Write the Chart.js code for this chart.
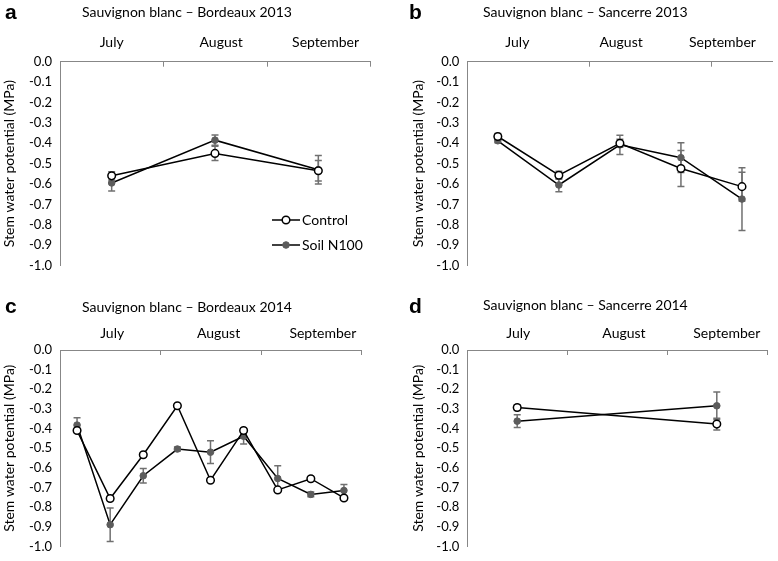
<!DOCTYPE html>
<html>
<head>
<meta charset="utf-8">
<script src="https://cdn.jsdelivr.net/npm/chart.js@4.4.1/dist/chart.umd.min.js"></script>
<style>
  body { margin: 0; background: #fff; }
  #wrap { position: relative; width: 778px; height: 561px; overflow: hidden; }
  canvas { position: absolute; }
  .letter { position: absolute; font-family: "Liberation Sans", Arial, sans-serif; font-weight: bold;
            font-size: 21px; line-height: 21px; color: #000; }
  .title { position: absolute; font-family: Lato, sans-serif; font-size: 14px; line-height: 16px;
           color: #000; white-space: nowrap; }
</style>
</head>
<body>
<div id="wrap">
  <canvas id="pa" width="389" height="280" style="left:0;top:0"></canvas>
  <canvas id="pb" width="389" height="280" style="left:389px;top:0"></canvas>
  <canvas id="pc" width="389" height="281" style="left:0;top:280px"></canvas>
  <canvas id="pd" width="389" height="281" style="left:389px;top:280px"></canvas>

  <div class="letter" style="left:5px;top:1px">a</div>
  <div class="title" style="left:82px;top:4px">Sauvignon blanc – Bordeaux 2013</div>
  <div class="letter" style="left:409px;top:1px">b</div>
  <div class="title" style="left:483px;top:4px">Sauvignon blanc – Sancerre 2013</div>
  <div class="letter" style="left:5px;top:295px">c</div>
  <div class="title" style="left:82px;top:299px">Sauvignon blanc – Bordeaux 2014</div>
  <div class="letter" style="left:409px;top:295px">d</div>
  <div class="title" style="left:483px;top:297px">Sauvignon blanc – Sancerre 2014</div>
</div>

<script>
// x values are months since 1 July (0 = 1 Jul, 1 = 1 Aug, 2 = 1 Sep)
const monthLabels = ['July', 'August', 'September'];
const seriesNames = ['Control', 'Soil N100'];

// a - Bordeaux 2013
const bdx13Dates = [0.5, 1.5, 2.5];
const bdx13Control = [-0.56, -0.45, -0.535];
const bdx13ControlSe = [0.02, 0.035, 0.05];
const bdx13Soil = [-0.595, -0.385, -0.53];
const bdx13SoilSe = [0.04, 0.025, 0.07];

// b - Sancerre 2013
const san13Dates = [0.25, 0.75, 1.25, 1.75, 2.25];
const san13Control = [-0.367, -0.557, -0.4, -0.524, -0.613];
const san13ControlSe = [0.015, 0.02, 0.02, 0.088, 0.07];
const san13Soil = [-0.388, -0.605, -0.408, -0.471, -0.674];
const san13SoilSe = [0.01, 0.033, 0.047, 0.073, 0.154];

// c - Bordeaux 2014
const bdx14Dates = [0.17, 0.5, 0.83, 1.17, 1.5, 1.83, 2.17, 2.5, 2.83];
const bdx14Control = [-0.41, -0.756, -0.533, -0.284, -0.663, -0.41, -0.712, -0.655, -0.753];
const bdx14ControlSe = [0.01, 0.01, 0.01, 0.01, 0.01, 0.01, 0.01, 0.01, 0.01];
const bdx14Soil = [-0.382, -0.889, -0.64, -0.504, -0.52, -0.439, -0.654, -0.735, -0.715];
const bdx14SoilSe = [0.037, 0.085, 0.037, 0.01, 0.058, 0.04, 0.065, 0.012, 0.03];

// d - Sancerre 2014
const san14Dates = [0.5, 2.5];
const san14Control = [-0.293, -0.377];
const san14ControlSe = [0.015, 0.03];
const san14Soil = [-0.362, -0.284];
const san14SoilSe = [0.032, 0.07];

const axisColor = '#878787';
const textColor = '#000';
const errColor = '#707070';
const soilColor = '#5c5c5c';
const fontFamily = 'Lato, sans-serif';

function toPoints(xs, ys) {
    return xs.map(function (x, i) { return { x: x, y: ys[i] }; });
}

// error bars drawn under the lines, from the dataset's own errors array
const errorBars = {
    id: 'errorBars',
    beforeDatasetsDraw: function (chart) {
        const ctx = chart.ctx;
        const x = chart.scales.x, y = chart.scales.y;
        chart.data.datasets.forEach(function (ds) {
            ctx.save();
            ctx.strokeStyle = errColor;
            ctx.lineWidth = 1.5;
            ds.data.forEach(function (p, j) {
                const e = ds.errors[j];
                const px = x.getPixelForValue(p.x);
                const top = y.getPixelForValue(p.y + e);
                const bot = y.getPixelForValue(p.y - e);
                ctx.beginPath();
                ctx.moveTo(px, top); ctx.lineTo(px, bot);
                ctx.moveTo(px - 3.5, top); ctx.lineTo(px + 3.5, top);
                ctx.moveTo(px - 3.5, bot); ctx.lineTo(px + 3.5, bot);
                ctx.stroke();
            });
            ctx.restore();
        });
    }
};

// month boundary ticks pointing down from the top axis
const monthTicks = {
    id: 'monthTicks',
    afterDraw: function (chart) {
        const ctx = chart.ctx, x = chart.scales.x, top = chart.chartArea.top;
        ctx.save();
        ctx.strokeStyle = axisColor;
        ctx.lineWidth = 1;
        for (let m = 1; m <= x.max + 1e-6; m++) {
            const px = Math.round(x.getPixelForValue(m)) + 0.5;
            ctx.beginPath();
            ctx.moveTo(px, top);
            ctx.lineTo(px, top + 5);
            ctx.stroke();
        }
        ctx.restore();
    }
};

// small legend inside panel a
function makeLegend(lx, ly, gap) {
    return {
        id: 'innerLegend',
        afterDraw: function (chart) {
            const ctx = chart.ctx;
            ctx.save();
            chart.data.datasets.forEach(function (ds, i) {
                const yy = ly + i * gap;
                ctx.strokeStyle = '#000';
                ctx.lineWidth = 1.5;
                ctx.beginPath();
                ctx.moveTo(lx, yy); ctx.lineTo(lx + 28, yy);
                ctx.stroke();
                ctx.beginPath();
                ctx.arc(lx + 14, yy, ds.pointRadius, 0, Math.PI * 2);
                ctx.fillStyle = ds.pointBackgroundColor;
                ctx.fill();
                ctx.lineWidth = ds.pointBorderWidth;
                ctx.strokeStyle = ds.pointBorderColor;
                ctx.stroke();
                ctx.fillStyle = textColor;
                ctx.font = '14px ' + fontFamily;
                ctx.textBaseline = 'middle';
                ctx.fillText(ds.label, lx + 30, yy);
            });
            ctx.restore();
        }
    };
}

function makePanel(p) {
    const plugins = [errorBars, monthTicks];
    if (p.legend) plugins.push(makeLegend(p.legend[0], p.legend[1], p.legend[2]));

    new Chart(document.getElementById(p.id), {
        type: 'line',
        data: {
            datasets: [
                {
                    label: seriesNames[0],
                    data: toPoints(p.dates, p.control),
                    errors: p.controlSe,
                    borderColor: '#000',
                    borderWidth: 1.5,
                    pointRadius: 3.8,
                    pointBorderWidth: 1.5,
                    pointBackgroundColor: '#fff',
                    pointBorderColor: '#000',
                    tension: 0
                },
                {
                    label: seriesNames[1],
                    data: toPoints(p.dates, p.soil),
                    errors: p.soilSe,
                    borderColor: '#000',
                    borderWidth: 1.5,
                    pointRadius: 3.3,
                    pointBorderWidth: 1,
                    pointBackgroundColor: soilColor,
                    pointBorderColor: soilColor,
                    tension: 0
                }
            ]
        },
        options: {
            responsive: false,
            animation: false,
            layout: { padding: { left: p.padLeft, right: p.padRight, top: 0, bottom: p.padBottom } },
            plugins: { legend: { display: false }, tooltip: { enabled: false } },
            scales: {
                x: {
                    type: 'linear',
                    position: 'top',
                    min: 0,
                    max: p.xMax,
                    afterFit: function (s) { s.height = p.axisTop; },
                    afterBuildTicks: function (s) {
                        s.ticks = p.labelAt.map(function (v) { return { value: v }; });
                    },
                    ticks: {
                        autoSkip: false,
                        maxRotation: 0,
                        padding: p.labelPad,
                        color: textColor,
                        font: { family: fontFamily, size: 14 },
                        callback: function (v, i) { return monthLabels[i]; }
                    },
                    grid: { display: true, drawOnChartArea: false, drawTicks: false },
                    border: { display: true, color: axisColor, width: 1 }
                },
                y: {
                    min: -1,
                    max: 0,
                    afterFit: function (s) { s.width = p.axisW; },
                    ticks: {
                        stepSize: 0.1,
                        padding: 8,
                        color: textColor,
                        font: { family: fontFamily, size: 13, lineHeight: 1 },
                        callback: function (v) { return (Math.abs(v) < 1e-9 ? 0 : v).toFixed(1); }
                    },
                    grid: { display: true, drawOnChartArea: false, drawTicks: false },
                    border: { display: true, color: axisColor, width: 1 },
                    title: {
                        display: true,
                        text: 'Stem water potential (MPa)',
                        color: textColor,
                        font: { family: fontFamily, size: 14 },
                        padding: { top: 1, bottom: 0 }
                    }
                }
            }
        },
        plugins: plugins
    });
}

makePanel({ id: 'pa', dates: bdx13Dates, control: bdx13Control, controlSe: bdx13ControlSe,
    soil: bdx13Soil, soilSe: bdx13SoilSe, xMax: 3, labelAt: [0.5, 1.56, 2.57],
    padLeft: 0, padRight: 19, padBottom: 13, axisW: 60, axisTop: 61.7, labelPad: 11.3,
    legend: [272, 220, 25] });

makePanel({ id: 'pb', dates: san13Dates, control: san13Control, controlSe: san13ControlSe,
    soil: san13Soil, soilSe: san13SoilSe, xMax: 2.5, labelAt: [0.41, 1.26, 2.09],
    padLeft: 20, padRight: 0, padBottom: 13, axisW: 58.3, axisTop: 61.7, labelPad: 11.3 });

makePanel({ id: 'pc', dates: bdx14Dates, control: bdx14Control, controlSe: bdx14ControlSe,
    soil: bdx14Soil, soilSe: bdx14SoilSe, xMax: 3, labelAt: [0.52, 1.58, 2.62],
    padLeft: 0, padRight: 28, padBottom: 6, axisW: 60, axisTop: 70, labelPad: 8.6 });

makePanel({ id: 'pd', dates: san14Dates, control: san14Control, controlSe: san14ControlSe,
    soil: san14Soil, soilSe: san14SoilSe, xMax: 3, labelAt: [0.51, 1.57, 2.6],
    padLeft: 20, padRight: 11.3, padBottom: 6, axisW: 58.3, axisTop: 70, labelPad: 8.6 });
</script>
</body>
</html>
